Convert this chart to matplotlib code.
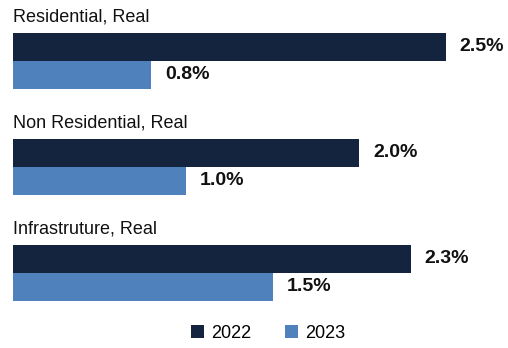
import matplotlib.pyplot as plt
from matplotlib.patches import Patch

plt.rcParams['font.family'] = ['Liberation Sans', 'DejaVu Sans']

categories = ["Residential, Real", "Non Residential, Real", "Infrastruture, Real"]
years = ["2022", "2023"]
values_2022 = [2.5, 2.0, 2.3]
values_2023 = [0.8, 1.0, 1.5]
colors = ["#14243F", "#4F81BD"]

fig = plt.figure(figsize=(5.08, 3.48), dpi=100)
ax = fig.add_axes([13 / 508, 1 - 318 / 348, 495 / 508, 318 / 348])

bh = 0.265
for i, (cat, v22, v23) in enumerate(zip(categories, values_2022, values_2023)):
    ax.barh(i - bh / 2, v22, height=bh, color=colors[0])
    ax.barh(i + bh / 2, v23, height=bh, color=colors[1])
    ax.text(0, i - 0.415, cat, ha='left', va='center', fontsize=13, color='#111111')
    for y, v in ((i - bh / 2, v22), (i + bh / 2, v23)):
        ax.annotate(f"{v:.1f}%", (v, y), xytext=(10, 0), textcoords='offset points',
                    ha='left', va='center', fontsize=14, fontweight='bold', color='#111111')

ax.set_xlim(0, 495 / 173)
ax.set_ylim(2.425, -0.575)
ax.axis('off')

handles = [Patch(facecolor=c, label=y) for c, y in zip(colors, years)]
fig.legend(handles=handles, loc='center', bbox_to_anchor=(268 / 508, 1 - 333 / 348),
           ncol=2, frameon=False, fontsize=13, handlelength=0.7, handleheight=0.7,
           handletextpad=0.4, columnspacing=1.9)

fig.savefig("out.png", dpi=100)
